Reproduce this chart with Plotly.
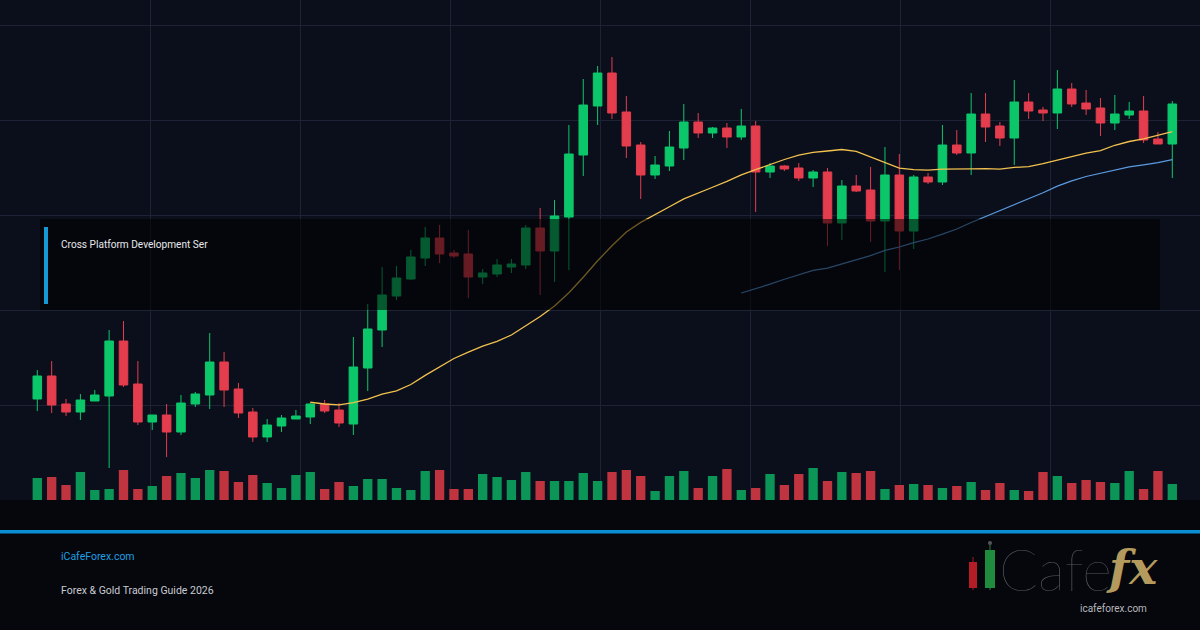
import plotly.graph_objects as go

# ---------------- data ----------------
idx = list(range(80))

opens = [1701, 1724, 1696, 1688, 1699, 1704, 1759, 1716, 1678, 1685,
         1668, 1696, 1705, 1738, 1711, 1688, 1663, 1674, 1681, 1683,
         1696, 1690, 1676, 1732, 1770, 1804, 1821, 1842, 1862, 1847,
         1846, 1823, 1826, 1833, 1835, 1872, 1849, 1883, 1945, 1994,
         2027, 1988, 1955, 1925, 1934, 1952, 1978, 1967, 1972, 1963,
         1974, 1928, 1934, 1932, 1922, 1928, 1877, 1914, 1910, 1879,
         1925, 1869, 1923, 1918, 1955, 1947, 1986, 1974, 1962, 1998,
         1990, 1987, 2011, 1997, 1992, 1977, 1985, 1989, 1961, 1956]
highs = [1730, 1739, 1701, 1706, 1710, 1770, 1779, 1739, 1685, 1696,
         1705, 1708, 1767, 1748, 1717, 1692, 1681, 1685, 1690, 1697,
         1700, 1697, 1763, 1796, 1833, 1834, 1850, 1873, 1875, 1850,
         1870, 1831, 1841, 1841, 1875, 1892, 1900, 1975, 2021, 2034,
         2043, 2004, 1958, 1944, 1969, 1996, 1987, 1973, 1977, 1991,
         1979, 1937, 1935, 1937, 1930, 1932, 1920, 1925, 1933, 1953,
         1946, 1925, 1927, 1975, 1970, 2007, 2007, 1978, 2020, 2007,
         1993, 2030, 2017, 2010, 2002, 2005, 1998, 2004, 1968, 1999]
lows = [1689, 1687, 1684, 1680, 1699, 1632, 1713, 1675, 1670, 1643,
        1665, 1693, 1691, 1693, 1682, 1658, 1658, 1668, 1681, 1676,
        1687, 1673, 1665, 1709, 1753, 1800, 1820, 1834, 1837, 1842,
        1802, 1816, 1823, 1827, 1831, 1805, 1818, 1830, 1924, 1975,
        1981, 1942, 1901, 1921, 1929, 1940, 1962, 1962, 1952, 1960,
        1888, 1922, 1929, 1919, 1913, 1854, 1860, 1908, 1858, 1828,
        1830, 1851, 1916, 1915, 1945, 1925, 1958, 1954, 1935, 1981,
        1979, 1971, 1993, 1985, 1964, 1970, 1981, 1957, 1956, 1922]
closes = [1724, 1695, 1688, 1700, 1705, 1759, 1715, 1678, 1685, 1668,
          1697, 1706, 1738, 1710, 1687, 1663, 1675, 1682, 1684, 1696,
          1689, 1677, 1733, 1771, 1805, 1822, 1843, 1862, 1846, 1844,
          1823, 1827, 1835, 1836, 1872, 1849, 1884, 1946, 1995, 2027,
          1987, 1954, 1925, 1935, 1953, 1978, 1967, 1972, 1963, 1974,
          1928, 1934, 1931, 1922, 1928, 1877, 1914, 1909, 1879, 1925,
          1869, 1923, 1918, 1955, 1947, 1986, 1973, 1962, 1998, 1989,
          1987, 2011, 1996, 1991, 1977, 1986, 1989, 1960, 1956, 1996]
volumes = [220, 230, 150, 280, 100, 110, 300, 110, 140, 240,
           270, 220, 300, 290, 180, 250, 170, 120, 250, 280,
           110, 180, 140, 210, 210, 120, 100, 290, 300, 110,
           110, 260, 230, 200, 280, 190, 190, 190, 270, 190,
           280, 300, 240, 90, 240, 290, 120, 240, 310, 100,
           120, 260, 150, 260, 320, 190, 280, 270, 290, 110,
           150, 160, 150, 120, 140, 180, 100, 170, 100, 90,
           280, 240, 170, 200, 180, 170, 290, 110, 290, 160]

# 20-period moving average (starts at candle 19)
ma20_x = list(range(19, 80))
ma20 = [1697.75, 1696.0, 1695.1, 1697.35, 1700.9, 1705.9, 1709.05, 1715.45, 1724.65, 1732.7,
        1741.5, 1747.8, 1753.85, 1758.7, 1765.0, 1774.25, 1783.55, 1794.0, 1807.2, 1822.75,
        1839.3, 1854.2, 1868.05, 1877.65, 1885.85, 1893.25, 1901.05, 1907.25, 1912.75, 1918.6,
        1925.1, 1930.35, 1935.7, 1940.5, 1944.8, 1947.6, 1949.0, 1950.5, 1948.65, 1942.85,
        1937.75, 1931.85, 1930.3, 1929.95, 1930.95, 1930.65, 1931.05, 1931.35, 1930.85, 1932.6,
        1933.35, 1936.3, 1940.15, 1943.4, 1946.85, 1949.3, 1954.75, 1958.5, 1961.05, 1964.9,
        1968.45]
# 50-period moving average (starts at candle 49)
ma50_x = list(range(49, 80))
ma50 = [1806.98, 1811.06, 1815.84, 1820.7, 1825.14, 1829.6, 1831.96, 1835.94, 1840.56, 1844.44,
        1849.58, 1853.02, 1857.36, 1860.96, 1865.86, 1871.06, 1877.52, 1883.48, 1889.08, 1895.36,
        1901.22, 1907.18, 1913.86, 1919.12, 1923.52, 1926.96, 1930.24, 1933.16, 1935.12, 1937.32,
        1940.36]

label_text = "Cross Platform Development Ser"
site_text = "iCafeForex.com"
guide_text = "Forex & Gold Trading Guide 2026"

# ---------------- styles ----------------
UP = "#0cc76a"
DOWN = "#e43d4d"
VOL_UP = "#0b9557"
VOL_DOWN = "#c0343f"
GRID = "#1d2335"
BG = "#0b0f1c"
FOOT = "#05070d"

vol_colors = [VOL_UP if c >= o else VOL_DOWN for o, c in zip(opens, closes)]

fig = go.Figure()

fig.add_trace(go.Bar(
    x=idx, y=volumes, marker=dict(color=vol_colors, line=dict(width=0)),
    width=0.65, yaxis="y2", hoverinfo="skip", showlegend=False))

fig.add_trace(go.Candlestick(
    x=idx, open=opens, high=highs, low=lows, close=closes,
    increasing=dict(line=dict(color=UP, width=1), fillcolor=UP),
    decreasing=dict(line=dict(color=DOWN, width=1), fillcolor=DOWN),
    whiskerwidth=0, hoverinfo="skip", showlegend=False))

fig.add_trace(go.Scatter(
    x=ma20_x, y=ma20, mode="lines", line=dict(color="#f2c14e", width=1.3),
    hoverinfo="skip", showlegend=False))
fig.add_trace(go.Scatter(
    x=ma50_x, y=ma50, mode="lines", line=dict(color="#5b9be0", width=1.2),
    hoverinfo="skip", showlegend=False))

W, H = 1200, 630


def px_x(v):
    return v / W


def px_y(v):
    return (H - v) / H


shapes = [
    # dark overlay box
    dict(type="rect", xref="paper", yref="paper", x0=px_x(40), x1=px_x(1160),
         y0=px_y(310), y1=px_y(219), fillcolor="rgba(0,0,0,0.55)", line=dict(width=0),
         layer="above"),
    # blue accent bar
    dict(type="rect", xref="paper", yref="paper", x0=px_x(44), x1=px_x(48),
         y0=px_y(304), y1=px_y(227), fillcolor="#1597d8", line=dict(width=0),
         layer="above"),
    # footer background
    dict(type="rect", xref="paper", yref="paper", x0=0, x1=1,
         y0=0, y1=px_y(500), fillcolor=FOOT, line=dict(width=0), layer="below"),
    # blue separator
    dict(type="rect", xref="paper", yref="paper", x0=0, x1=1,
         y0=px_y(533.5), y1=px_y(530), fillcolor="#0b8fd4", line=dict(width=0),
         layer="above"),
    # logo candles
    dict(type="line", xref="paper", yref="paper", x0=px_x(973), x1=px_x(973),
         y0=px_y(590), y1=px_y(557), line=dict(color="#9a1f25", width=1)),
    dict(type="rect", xref="paper", yref="paper", x0=px_x(969), x1=px_x(977),
         y0=px_y(588), y1=px_y(562), fillcolor="#b51d26", line=dict(width=0)),
    dict(type="line", xref="paper", yref="paper", x0=px_x(990), x1=px_x(990),
         y0=px_y(590), y1=px_y(543), line=dict(color="#2a7a3c", width=1)),
    dict(type="circle", xref="paper", yref="paper", x0=px_x(988), x1=px_x(992),
         y0=px_y(545), y1=px_y(541), fillcolor="#555555", line=dict(width=0)),
    dict(type="rect", xref="paper", yref="paper", x0=px_x(985), x1=px_x(995),
         y0=px_y(588), y1=px_y(550), fillcolor="#1f8b3d", line=dict(width=0)),
]

annotations = [
    dict(text=label_text, xref="paper", yref="paper", x=px_x(59), y=px_y(245),
         xanchor="left", yanchor="middle", showarrow=False,
         font=dict(family="Roboto", size=10.1, color="#e8e8ea")),
    dict(text=site_text, xref="paper", yref="paper", x=px_x(59), y=px_y(556),
         xanchor="left", yanchor="middle", showarrow=False,
         font=dict(family="Roboto", size=10.5, color="#1f9fe2")),
    dict(text=guide_text, xref="paper", yref="paper", x=px_x(59), y=px_y(590),
         xanchor="left", yanchor="middle", showarrow=False,
         font=dict(family="Roboto", size=10.5, color="#c8cbd2")),
    dict(text="Cafe", xref="paper", yref="paper", x=px_x(997), y=px_y(569),
         xanchor="left", yanchor="middle", showarrow=False,
         font=dict(family="Lato", size=57, color="#5b5b5e", weight=200)),
    dict(text="<b><i>fx</i></b>", xref="paper", yref="paper", x=px_x(1104), y=px_y(567),
         xanchor="left", yanchor="middle", showarrow=False,
         font=dict(family="DejaVu Serif", size=47, color="#b49a5c")),
    dict(text="icafeforex.com", xref="paper", yref="paper", x=px_x(1113), y=px_y(608),
         xanchor="center", yanchor="middle", showarrow=False,
         font=dict(family="Roboto", size=10, color="#b8b8bc")),
]

scale = 1135 / 79.0
x_left = -37.3 / scale
x_right = (W - 37.3) / scale

fig.update_layout(
    width=W, height=H, margin=dict(l=0, r=0, t=0, b=0),
    paper_bgcolor=FOOT, plot_bgcolor=BG, boxgap=0.15, bargap=0.3,
    showlegend=False, shapes=shapes, annotations=annotations,
    xaxis=dict(range=[x_left, x_right], tick0=(150 - 37.3) / scale, dtick=150 / scale,
               showgrid=True, gridcolor=GRID, gridwidth=1, showticklabels=False,
               zeroline=False, showline=False, ticks="", rangeslider=dict(visible=False)),
    yaxis=dict(domain=[130 / 630, 1], range=[1600, 2100], tick0=1600, dtick=95,
               showgrid=True, gridcolor=GRID, gridwidth=1, showticklabels=False,
               zeroline=False, showline=False, ticks=""),
    yaxis2=dict(overlaying="y", range=[0, 5000], showgrid=False, showticklabels=False,
                zeroline=False, showline=False, ticks=""),
)

fig.write_html("out.html", config={"displayModeBar": False})
